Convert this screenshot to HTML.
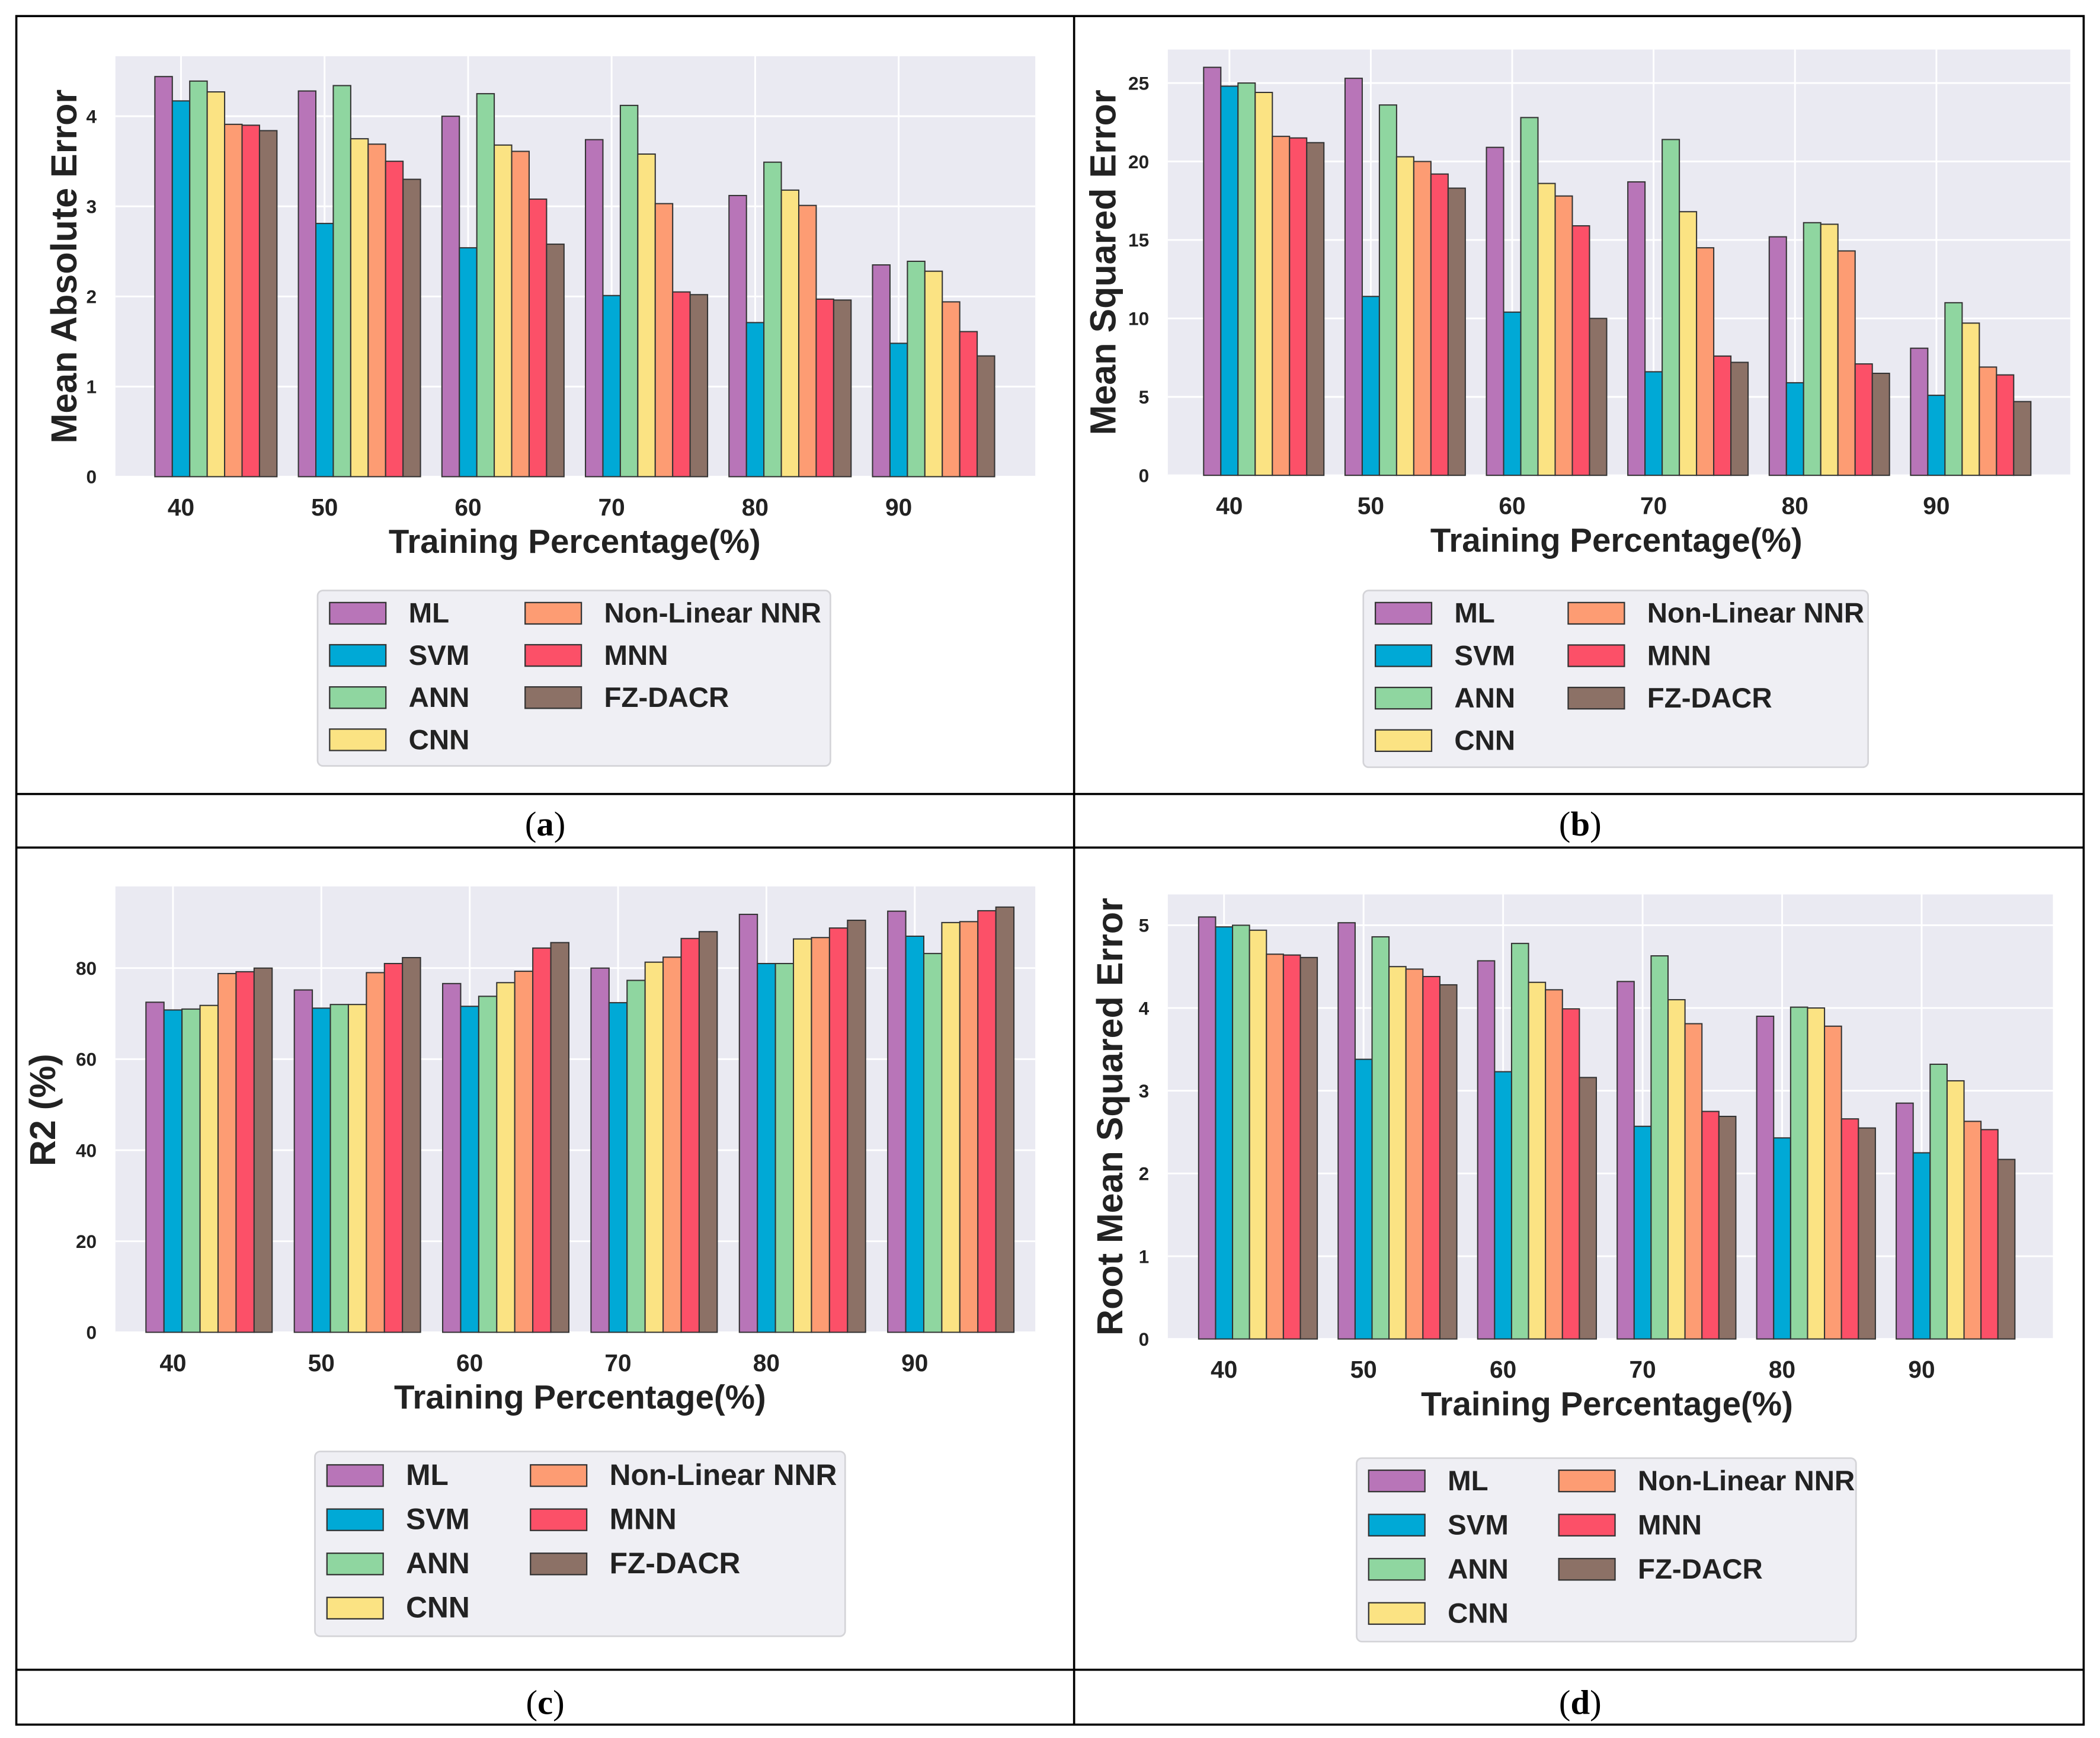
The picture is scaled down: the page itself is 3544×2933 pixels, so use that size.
<!DOCTYPE html>
<html><head><meta charset="utf-8">
<style>
html,body{margin:0;padding:0;background:#fff;}
svg{display:block;}
.tick{font-family:"Liberation Sans Narrow","Liberation Sans",sans-serif;font-weight:bold;fill:#222;}
.lab{font-family:"Liberation Sans",sans-serif;font-weight:bold;fill:#222;}
.xl{font-family:"Liberation Sans Narrow","Liberation Sans",sans-serif;font-weight:bold;fill:#222;}
.cap{font-family:"Liberation Serif",serif;fill:#000;}
</style></head>
<body>
<svg id="fig" width="3544" height="2933" viewBox="0 0 1568 1298" xmlns="http://www.w3.org/2000/svg">
<g stroke="#000" stroke-width="1.6" fill="none">
<rect x="12" y="12" width="1544" height="1276"/>
<line x1="802" y1="12" x2="802" y2="1288"/>
<line x1="12" y1="593" x2="1556" y2="593"/>
<line x1="12" y1="633" x2="1556" y2="633"/>
<line x1="12" y1="1247" x2="1556" y2="1247"/>
</g>
<text class="cap" x="407" y="624" font-size="26" text-anchor="middle">(<tspan font-weight="bold">a</tspan>)</text>
<text class="cap" x="1180" y="624" font-size="26" text-anchor="middle">(<tspan font-weight="bold">b</tspan>)</text>
<text class="cap" x="407" y="1280" font-size="26" text-anchor="middle">(<tspan font-weight="bold">c</tspan>)</text>
<text class="cap" x="1180" y="1280" font-size="26" text-anchor="middle">(<tspan font-weight="bold">d</tspan>)</text>
</svg>
<script>
const categories = ["40","50","60","70","80","90"];
const seriesNames = ["ML","SVM","ANN","CNN","Non-Linear NNR","MNN","FZ-DACR"];
const seriesColors = ["#b875b8","#00a9d6","#8fd6a0","#fbe383","#fd9c73","#fc5068","#8c7166"];

const maeValues = [
 [4.44,4.17,4.39,4.27,3.91,3.90,3.84],
 [4.28,2.81,4.34,3.75,3.69,3.50,3.30],
 [4.00,2.54,4.25,3.68,3.61,3.08,2.58],
 [3.74,2.01,4.12,3.58,3.03,2.05,2.02],
 [3.12,1.71,3.49,3.18,3.01,1.97,1.96],
 [2.35,1.48,2.39,2.28,1.94,1.61,1.34]];
const maeTicks = [0,1,2,3,4];

const mseValues = [
 [26.0,24.8,25.0,24.4,21.6,21.5,21.2],
 [25.3,11.4,23.6,20.3,20.0,19.2,18.3],
 [20.9,10.4,22.8,18.6,17.8,15.9,10.0],
 [18.7,6.6,21.4,16.8,14.5,7.6,7.2],
 [15.2,5.9,16.1,16.0,14.3,7.1,6.5],
 [8.1,5.1,11.0,9.7,6.9,6.4,4.7]];
const mseTicks = [0,5,10,15,20,25];

const r2Values = [
 [72.5,70.8,71.0,71.8,78.8,79.2,80.0],
 [75.2,71.2,72.0,72.0,79.0,81.0,82.3],
 [76.6,71.6,73.8,76.8,79.3,84.4,85.6],
 [80.0,72.4,77.3,81.3,82.4,86.5,88.0],
 [91.8,81.0,81.0,86.4,86.7,88.8,90.5],
 [92.5,87.0,83.2,90.0,90.2,92.6,93.4]];
const r2Ticks = [0,20,40,60,80];

const rmseValues = [
 [5.10,4.98,5.00,4.94,4.65,4.64,4.61],
 [5.03,3.38,4.86,4.50,4.47,4.38,4.28],
 [4.57,3.23,4.78,4.31,4.22,3.99,3.16],
 [4.32,2.57,4.63,4.10,3.81,2.75,2.69],
 [3.90,2.43,4.01,4.00,3.78,2.66,2.55],
 [2.85,2.25,3.32,3.12,2.63,2.53,2.17]];
const rmseTicks = [0,1,2,3,4,5];

const NS = "http://www.w3.org/2000/svg";
const svg = document.getElementById("fig");
function mk(tag, attrs, parent){
  const e = document.createElementNS(NS, tag);
  for (const k in attrs) e.setAttribute(k, attrs[k]);
  (parent||svg).appendChild(e);
  return e;
}

function panel(cfg){
  const g = mk("g", {});
  
  
  const yScale = v => cfg.y0 - (v - cfg.vmin) * cfg.pxPerUnit;
  const xCenter = i => cfg.c0 + i * cfg.step;
  const bw = cfg.step * 0.1215;
  const bg = mk("rect", {x:cfg.left, y:cfg.top, width:cfg.right-cfg.left, height:cfg.y0-cfg.top, fill:"#eaeaf2"}, g);
  
  
  cfg.ticks.forEach(t => {
    const y = yScale(t);
    mk("line", {x1:cfg.left, x2:cfg.right, y1:y, y2:y, stroke:"#fff", "stroke-width":1.3}, g);
    const tl = mk("text", {x:cfg.left-14, y:y+5, "font-size":14, "text-anchor":"end", class:"tick"}, g);
    tl.textContent = t;
    
    
  });
  categories.forEach((c, i) => {
    const x = xCenter(i);
    mk("line", {x1:x, x2:x, y1:cfg.top, y2:cfg.y0, stroke:"#fff", "stroke-width":1.3}, g);
    const tl = mk("text", {x:x, y:cfg.y0+29, "font-size":18, "text-anchor":"middle", class:"tick"}, g);
    tl.textContent = c;
    
    
  });
  cfg.values.forEach((row, i) => {
    row.forEach((v, j) => {
      const x = xCenter(i) + (j - 1.5) * bw;
      const y = yScale(v);
      const r = mk("rect", {x:x, y:y, width:bw, height:cfg.y0 - y, fill:seriesColors[j], stroke:"#333", "stroke-width":0.9}, g);
      
      
    });
  });
  const xt = mk("text", {x:cfg.xlx, y:cfg.y0+57, "font-size":25, "text-anchor":"middle", class:"xl"}, g);
  xt.textContent = "Training Percentage(%)";
  
  
  const yt = mk("text", {x:0, y:0, "font-size":27, "text-anchor":"middle", class:"lab", transform:"translate("+(cfg.ylx)+","+cfg.yly+") rotate(-90)"}, g);
  yt.textContent = cfg.ylabel;
  
  
  const L = cfg.legend;
  const lg = mk("g", {}, g);
  
  
  mk("rect", {x:L.x, y:L.y, width:L.w, height:L.h, rx:4, fill:"#efeff4", stroke:"#d4d4d8", "stroke-width":1.2}, lg);
  seriesNames.forEach((n, j) => {
    const col = j < 4 ? 0 : 1;
    const row = j < 4 ? j : j - 4;
    const sx = col === 0 ? L.s1 : L.s2;
    const ry = L.r0 + row * L.dr;
    const e = mk("g", {}, lg);
    
    
    mk("rect", {x:sx, y:ry-8, width:42, height:16, fill:seriesColors[j], stroke:"#333", "stroke-width":1}, e);
    const t = mk("text", {x:sx+59, y:ry+7, "font-size":L.fs, class:"xl"}, e);
    t.textContent = n;
  });
}

panel({id:"mae", values:maeValues, ticks:maeTicks, vmin:0, left:86, right:773, top:42, y0:356, pxPerUnit:67.3,
  c0:135, step:107.2, xlx:429, ylx:57, yly:199, ylabel:"Mean Absolute Error",
  legend:{x:237,y:441,w:383,h:131,s1:246,s2:392,r0:458,dr:31.5,fs:21}});
panel({id:"mse", values:mseValues, ticks:mseTicks, vmin:0, left:872, right:1546, top:37, y0:355, pxPerUnit:11.72,
  c0:918, step:105.6, xlx:1207, ylx:833, yly:196, ylabel:"Mean Squared Error",
  legend:{x:1018,y:441,w:377,h:132,s1:1027,s2:1171,r0:458,dr:31.7,fs:21}});
panel({id:"r2", values:r2Values, ticks:r2Ticks, vmin:0, left:86, right:773, top:662, y0:995, pxPerUnit:3.4,
  c0:129, step:110.8, xlx:433, ylx:41, yly:829, ylabel:"R2 (%)",
  legend:{x:235,y:1084,w:396,h:138,s1:244,s2:396,r0:1102,dr:33,fs:22}});
panel({id:"rmse", values:rmseValues, ticks:rmseTicks, vmin:0, left:872, right:1533, top:668, y0:1000, pxPerUnit:61.8,
  c0:914, step:104.2, xlx:1200, ylx:838, yly:834, ylabel:"Root Mean Squared Error",
  legend:{x:1013,y:1089,w:373,h:137,s1:1022,s2:1164,r0:1106,dr:33,fs:21}});
</script>
</body></html>
